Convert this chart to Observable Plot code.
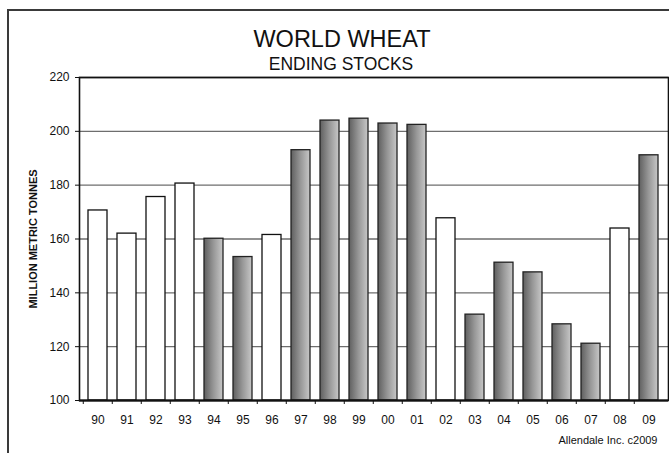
<!DOCTYPE html>
<html>
<head>
<meta charset="utf-8">
<script src="https://cdn.jsdelivr.net/npm/d3@7"></script>
<script src="https://cdn.jsdelivr.net/npm/@observablehq/plot@0.6"></script>
<style>
  html, body { margin: 0; padding: 0; background: #fff; }
  #wrap { position: relative; width: 669px; height: 453px; overflow: hidden; }
  #border { position: absolute; left: 7px; top: 9px; width: 700px; height: 500px;
            border-left: 2px solid #3a3a3a; border-top: 2px solid #3a3a3a; pointer-events: none; }
</style>
</head>
<body>
<div id="wrap"><div id="border"></div></div>
<script>
const title = "WORLD WHEAT";
const subtitle = "ENDING STOCKS";
const yLabel = "MILLION METRIC TONNES";
const caption = "Allendale Inc. c2009";

const years = ["90","91","92","93","94","95","96","97","98","99","00","01","02","03","04","05","06","07","08","09"];
const stocks = [170.6,162.0,175.6,180.6,160.1,153.3,161.5,193.0,204.0,204.7,202.9,202.4,167.7,131.9,151.2,147.6,128.3,121.1,163.9,191.1];
const shadedYears = ["94","95","97","98","99","00","01","03","04","05","06","07","09"];
const yTicks = [100,120,140,160,180,200,220];

const data = years.map((year, i) => ({year, value: stocks[i], shaded: shadedYears.includes(year)}));

const W = 669, H = 453, mL = 79, mR = 1, mT = 77, mB = 53;
const step = (W - mL - mR) / years.length;

const gradientDefs = () => {
  const defs = document.createElementNS("http://www.w3.org/2000/svg", "defs");
  defs.innerHTML = '<linearGradient id="barGrad" x1="0" x2="1" y1="0" y2="0">' +
    '<stop offset="0" stop-color="#5f5f5f"/><stop offset="0.5" stop-color="#979797"/><stop offset="1" stop-color="#c8c8c8"/></linearGradient>';
  return defs;
};

const chart = Plot.plot({
  width: W, height: H,
  marginLeft: mL, marginRight: mR, marginTop: mT, marginBottom: mB,
  style: {fontFamily: "'Liberation Sans', Arial, sans-serif", fontSize: "12px", color: "#111", background: "transparent", overflow: "visible"},
  x: {domain: years, paddingInner: 0.33, paddingOuter: 0.165, label: null},
  y: {domain: [yTicks[0], yTicks[yTicks.length - 1]], label: null},
  marks: [
    gradientDefs,
    Plot.gridY(yTicks, {stroke: "#6e6e6e", strokeOpacity: 1, strokeWidth: 1.3}),
    Plot.barY(data.filter(d => !d.shaded), {x: "year", y1: yTicks[0], y2: "value", fill: "white", stroke: "#111", strokeWidth: 1.3}),
    Plot.barY(data.filter(d => d.shaded), {x: "year", y1: yTicks[0], y2: "value", fill: "url(#barGrad)", stroke: "#222", strokeWidth: 1.3}),
    Plot.frame({stroke: "#111", strokeWidth: 1.6}),
    Plot.ruleY([yTicks[0]], {stroke: "#111", strokeWidth: 2}),
    Plot.axisY(yTicks, {tickSize: 4, tickPadding: 6, label: null, fontSize: 12}),
    Plot.axisX({tickSize: 4, tickFormat: () => "", dx: -step / 2, label: null}),
    Plot.axisX({tickSize: 0, tickPadding: 15, label: null, fontSize: 12}),
    Plot.text([yLabel], {frameAnchor: "left", dx: -46, rotate: -90, textAnchor: "middle", lineAnchor: "middle", fontWeight: "bold", fontSize: 11}),
    Plot.text([title], {frameAnchor: "top-left", dx: 341.5 - mL, dy: -38.5, textAnchor: "middle", lineAnchor: "middle", fontSize: 23.5}),
    Plot.text([subtitle], {frameAnchor: "top-left", dx: 340.5 - mL, dy: -13.5, textAnchor: "middle", lineAnchor: "middle", fontSize: 17.5}),
    Plot.text([caption], {frameAnchor: "bottom-right", dx: -11, dy: 39.5, textAnchor: "end", lineAnchor: "middle", fontSize: 11})
  ]
});
chart.style.position = "absolute";
chart.style.left = "0";
chart.style.top = "0";
document.getElementById("wrap").appendChild(chart);
</script>
</body>
</html>
